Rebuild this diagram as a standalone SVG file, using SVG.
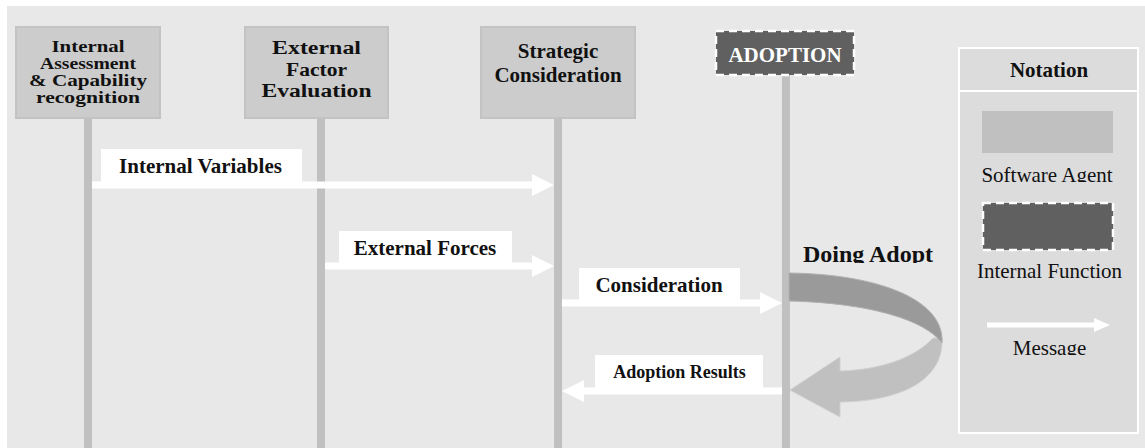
<svg xmlns="http://www.w3.org/2000/svg" width="1145" height="448" viewBox="0 0 1145 448">
<style>
.bg{fill:#e8e8e8}
.agent{fill:#cccccc;stroke:#c3c3c3;stroke-width:2}
.func{fill:#606060;stroke:#ffffff;stroke-width:2.5;stroke-dasharray:8 5}
.life{stroke:#c0c0c0;stroke-width:8}
.msg{fill:#ffffff}
.lbl{fill:#ffffff}
.b{font-family:"Liberation Serif","Times New Roman",serif;font-weight:bold;fill:#111111;text-anchor:middle}
.r{font-family:"Liberation Serif","Times New Roman",serif;fill:#111111;text-anchor:middle;font-size:21px}
</style>
<defs>
<clipPath id="clipDo"><rect x="790" y="230" width="160" height="33"/></clipPath>
<clipPath id="clipSA"><rect x="960" y="150" width="176" height="32"/></clipPath>
<clipPath id="clipMsg"><rect x="960" y="330" width="176" height="25"/></clipPath>
</defs>
<rect class="bg" x="7" y="6" width="1138" height="442"/>

<g id="lifelines">
<line class="life" x1="88" y1="118" x2="88" y2="448"/>
<line class="life" x1="321" y1="118" x2="321" y2="448"/>
<line class="life" x1="558" y1="118" x2="558" y2="448"/>
<line class="life" x1="786" y1="75" x2="786" y2="448"/>
</g>

<g id="node-internal">
<rect class="agent" x="16" y="27" width="144" height="91"/>
<text class="b" font-size="17" x="88" y="52" textLength="73" lengthAdjust="spacingAndGlyphs">Internal</text>
<text class="b" font-size="17" x="88" y="69" textLength="96" lengthAdjust="spacingAndGlyphs">Assessment</text>
<text class="b" font-size="17" x="88" y="86" textLength="118" lengthAdjust="spacingAndGlyphs">&amp; Capability</text>
<text class="b" font-size="17" x="88" y="103" textLength="104" lengthAdjust="spacingAndGlyphs">recognition</text>
</g>

<g id="node-external">
<rect class="agent" x="245" y="27" width="143" height="91"/>
<text class="b" font-size="18.5" x="316.5" y="54" textLength="89" lengthAdjust="spacingAndGlyphs">External</text>
<text class="b" font-size="18.5" x="316.5" y="75.5" textLength="61" lengthAdjust="spacingAndGlyphs">Factor</text>
<text class="b" font-size="18.5" x="316.5" y="97" textLength="110" lengthAdjust="spacingAndGlyphs">Evaluation</text>
</g>

<g id="node-strategic">
<rect class="agent" x="481" y="27" width="154" height="91"/>
<text class="b" font-size="21" x="558" y="58">Strategic</text>
<text class="b" font-size="21" x="558" y="82">Consideration</text>
</g>

<g id="node-adoption">
<rect class="func" x="716" y="31" width="138" height="44"/>
<text class="b" font-size="21" x="785" y="62" style="fill:#ffffff">ADOPTION</text>
</g>

<g id="connectors">
<rect class="lbl" x="101" y="149" width="201" height="34"/>
<path class="msg" d="M92,181.5 L532,181.5 L532,174 L554,185 L532,196 L532,188.5 L92,188.5 Z"/>
<text class="b" font-size="21" x="200.5" y="173">Internal Variables</text>

<rect class="lbl" x="339" y="231" width="173" height="33"/>
<path class="msg" d="M325,262.5 L532,262.5 L532,255 L554,266 L532,277 L532,269.5 L325,269.5 Z"/>
<text class="b" font-size="21" x="425" y="255">External Forces</text>

<rect class="lbl" x="579" y="268" width="161" height="34"/>
<path class="msg" d="M562,299.5 L760,299.5 L760,292 L782,303 L760,314 L760,306.5 L562,306.5 Z"/>
<text class="b" font-size="21" x="659" y="292">Consideration</text>

<rect class="lbl" x="595" y="355" width="168" height="34"/>
<path class="msg" d="M782,387.5 L584,387.5 L584,380 L562,391 L584,402 L584,394.5 L782,394.5 Z"/>
<text class="b" font-size="18" x="679.5" y="378">Adoption Results</text>

<g id="self-adopt">
<path d="M933,338 C915,358 880,370 840,371 L840,357 L790,390 L840,417 L840,402 C905,401 944,378 942,338 Z" fill="#c0c0c0" stroke="#cfcfcf" stroke-width="1"/>
<path d="M789,273 C875,274 940,298 942,338 L942,343 C925,320 870,303 789,301 Z" fill="#9a9a9a" stroke="#b0b0b0" stroke-width="1"/>
<text class="b" font-size="24" x="803" y="262" style="text-anchor:start" clip-path="url(#clipDo)">Doing Adopt</text>
</g>
</g>

<g id="notation">
<rect x="959" y="48" width="179" height="385" fill="#dcdcdc" stroke="#ffffff" stroke-width="2"/>
<line x1="959" y1="91" x2="1138" y2="91" stroke="#ffffff" stroke-width="2"/>
<text class="b" font-size="21" x="1049" y="77">Notation</text>
<rect x="982" y="111" width="131" height="42" fill="#c0c0c0"/>
<text class="r" x="1047" y="182" clip-path="url(#clipSA)">Software Agent</text>
<rect class="func" x="983" y="203" width="130" height="47"/>
<text class="r" x="1049.5" y="278">Internal Function</text>
<path class="msg" d="M987,322.5 L1094,322.5 L1094,318 L1110,325 L1094,332 L1094,327.5 L987,327.5 Z"/>
<text class="r" x="1049.5" y="355" clip-path="url(#clipMsg)">Message</text>
</g>
</svg>
